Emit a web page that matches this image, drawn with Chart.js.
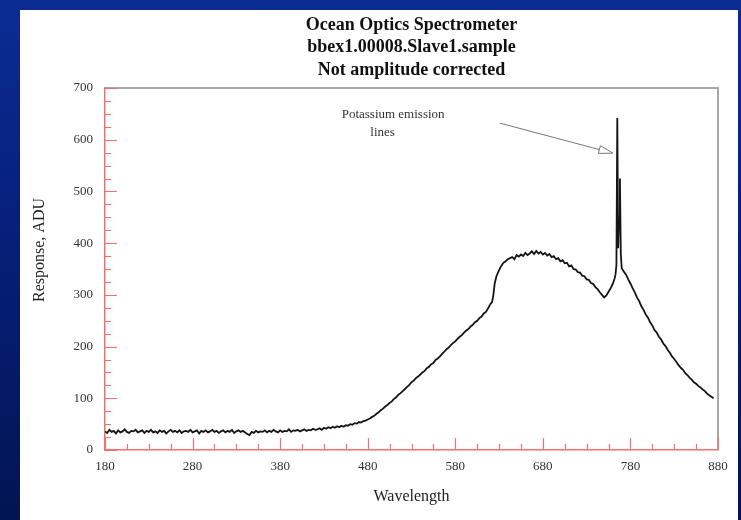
<!DOCTYPE html>
<html>
<head>
<meta charset="utf-8">
<script src="https://cdn.jsdelivr.net/npm/chart.js@4.4.1/dist/chart.umd.min.js"></script>
<style>
  html, body { margin: 0; padding: 0; }
  body {
    width: 741px; height: 520px; overflow: hidden; position: relative;
    background: linear-gradient(to bottom, #0b2c94 0%, #06207a 45%, #021452 100%);
  }
  #panel { position: absolute; left: 20px; top: 10px; width: 718px; height: 510px; background: #fff; }
  #wrap { position: absolute; left: 0; top: 0; width: 741px; height: 520px; }
</style>
</head>
<body>
<div id="panel"></div>
<div id="wrap"><canvas id="spectrum" width="741" height="520"></canvas></div>
<script>
const titleLines = ["Ocean Optics Spectrometer", "bbex1.00008.Slave1.sample", "Not amplitude corrected"];
const xTitle = "Wavelength";
const yTitle = "Response, ADU";

const xTicks = [180, 280, 380, 480, 580, 680, 780, 880];
const yTicks = [0, 100, 200, 300, 400, 500, 600, 700];
const minorStep = 25;

const wavelength = [
  180, 182.5, 185, 187.5, 190, 192.5, 195, 197.5, 200, 202.5, 205, 207.5, 210, 212.5, 215, 217.5, 220, 222.5, 225, 227.5, 230, 232.5, 235, 237.5, 240,
  242.5, 245, 247.5, 250, 252.5, 255, 257.5, 260, 262.5, 265, 267.5, 270, 272.5, 275, 277.5, 280, 282.5, 285, 287.5, 290, 292.5, 295, 297.5, 300,
  302.5, 305, 307.5, 310, 312.5, 315, 317.5, 320, 322.5, 325, 327.5, 330, 332.5, 335, 337.5, 340, 342.5, 345, 347.5, 350, 352.5, 355, 357.5, 360,
  362.5, 365, 367.5, 370, 372.5, 375, 377.5, 380, 382.5, 385, 387.5, 390, 392.5, 395, 397.5, 400, 402.5, 405, 407.5, 410, 412.5, 415, 417.5, 420,
  422.5, 425, 427.5, 430, 432.5, 435, 437.5, 440, 442.5, 445, 447.5, 450, 452.5, 455, 457.5, 460, 462.5, 465, 467.5, 470, 472.5, 475, 477.5, 480,
  482.5, 485, 487.5, 490, 492.5, 495, 497.5, 500, 502.5, 505, 507.5, 510, 512.5, 515, 517.5, 520, 522.5, 525, 527.5, 530, 532.5, 535, 537.5, 540,
  542.5, 545, 547.5, 550, 552.5, 555, 557.5, 560, 562.5, 565, 567.5, 570, 572.5, 575, 577.5, 580, 582.5, 585, 587.5, 590, 592.5, 595, 597.5, 600,
  602.5, 605, 607.5, 610, 612.5, 615, 617.5, 620,
  622, 623.5, 625, 627, 630, 632.5, 635, 637.5, 640, 642.5,
  645, 647.5, 650, 652.5, 655, 657.5, 660, 662.5, 665, 667.5,
  670, 672.5, 675, 677.5, 680, 682.5, 685, 687.5, 690, 692.5,
  695, 697.5, 700, 702.5, 705, 707.5, 710, 712.5, 715, 717.5,
  720, 722.5, 725, 727.5, 730, 732.5, 735, 737.5, 740, 742.5,
  745, 747.5, 750, 752.5, 755, 757.5, 760, 762, 763, 764,
  765, 766, 767, 768, 769, 770, 772, 775, 777.5, 780,
  782.5, 785, 787.5, 790, 792.5, 795, 797.5, 800, 802.5, 805,
  807.5, 810, 812.5, 815, 817.5, 820, 822.5, 825, 827.5, 830,
  832.5, 835, 837.5, 840, 842.5, 845, 847.5, 850, 852.5, 855,
  857.5, 860, 862.5, 865, 867.5, 870, 872.5, 875
];
const response = [
  36, 33, 39, 35, 37, 32, 38, 34, 36, 40, 35, 33, 37, 36, 39, 34, 36, 38, 33, 37, 35, 39, 34, 36, 33,
  38, 35, 37, 32, 36, 39, 35, 37, 34, 38, 33, 36, 37, 35, 39, 34, 36, 38, 32, 37, 35, 38, 34, 36,
  39, 35, 37, 33, 36, 38, 34, 37, 35, 39, 33, 36, 38, 35, 37, 34, 31, 29, 35, 33, 37, 34, 36, 35,
  38, 34, 37, 35, 39, 36, 34, 38, 35, 37, 36, 40, 35, 38, 37, 39, 36, 38, 40, 37, 39, 38, 41, 39,
  40, 42, 39, 43, 41, 44, 42, 45, 43, 46, 44, 47, 45, 48, 47, 50, 49, 52, 51, 54, 53, 56, 57, 59,
  61, 64, 66, 70, 73, 77, 80, 84, 87, 91, 94, 99, 102, 107, 110, 114, 118, 122, 126, 131, 134, 139, 142, 146,
  150, 153, 158, 161, 166, 168, 174, 177, 181, 186, 190, 195, 198, 203, 207, 210, 215, 219, 222, 227, 231, 234, 239, 242,
  247, 250, 255, 258, 264, 267, 274, 282,
  286, 300, 322, 336, 348, 356, 362, 365, 369, 371,
  373, 369, 377, 374, 378, 375, 381, 377, 380, 384,
  379, 385, 380, 383, 378, 381, 376, 379, 373, 375,
  369, 371, 365, 367, 361, 362, 355, 357, 350, 349,
  344, 343, 337, 336, 330, 329, 323, 321, 315, 311,
  305, 300, 295, 299, 306, 313, 322, 332, 340, 358,
  642, 390, 450, 525, 380, 352, 346, 339, 330, 322,
  313, 305, 295, 288, 278, 271, 262, 256, 247, 241,
  232, 227, 219, 214, 206, 201, 194, 188, 181, 176,
  170, 164, 159, 155, 149, 145, 140, 136, 131, 128,
  124, 121, 117, 114, 109, 106, 103, 100
];

// annotation placed in data coordinates
const noteLines = ["Potassium emission", "lines"];
const notePos = [[509, 648], [497, 613]];
const arrowFrom = [631, 632];
const arrowTo = [760, 574];

const axisRed = "rgb(244, 112, 112)";
const serif = "'Liberation Serif', 'Times New Roman', serif";

if (wavelength.length !== response.length) {
  throw new Error("wavelength/response length mismatch: " + wavelength.length + " vs " + response.length);
}

const points = wavelength.map((w, i) => ({ x: w, y: response[i] }));

const framePlugin = {
  id: "framePlugin",
  afterDatasetsDraw(chart) {
    const { ctx, chartArea: a, scales: { x, y } } = chart;
    ctx.save();
    // grey top and right frame
    ctx.strokeStyle = "#a8a8a8";
    ctx.lineWidth = 2;
    ctx.beginPath();
    ctx.moveTo(a.left, a.top);
    ctx.lineTo(a.right, a.top);
    ctx.lineTo(a.right, a.bottom);
    ctx.stroke();

    // inward ticks
    ctx.strokeStyle = axisRed;
    ctx.lineWidth = 1.2;
    ctx.beginPath();
    for (let v = xTicks[0]; v <= xTicks[xTicks.length - 1]; v += minorStep) {
      const px = Math.round(x.getPixelForValue(v)) + 0.5;
      const len = xTicks.includes(v) ? 12 : 6;
      ctx.moveTo(px, a.bottom);
      ctx.lineTo(px, a.bottom - len);
    }
    for (let v = yTicks[0]; v <= yTicks[yTicks.length - 1]; v += minorStep) {
      const py = Math.round(y.getPixelForValue(v)) + 0.5;
      const len = yTicks.includes(v) ? 12 : 6;
      ctx.moveTo(a.left, py);
      ctx.lineTo(a.left + len, py);
    }
    ctx.stroke();

    // axis titles
    ctx.fillStyle = "#222";
    ctx.font = "16px " + serif;
    ctx.textAlign = "center";
    ctx.textBaseline = "middle";
    ctx.fillText(xTitle, (a.left + a.right) / 2, 497);
    ctx.save();
    ctx.translate(40, 250);
    ctx.rotate(-Math.PI / 2);
    ctx.fillText(yTitle, 0, 0);
    ctx.restore();

    // annotation
    ctx.font = "13px " + serif;
    ctx.fillStyle = "#333";
    noteLines.forEach((t, i) => {
      ctx.fillText(t, x.getPixelForValue(notePos[i][0]), y.getPixelForValue(notePos[i][1]));
    });
    const x0 = x.getPixelForValue(arrowFrom[0]);
    const y0 = y.getPixelForValue(arrowFrom[1]);
    const x1 = x.getPixelForValue(arrowTo[0]);
    const y1 = y.getPixelForValue(arrowTo[1]);
    const ang = Math.atan2(y1 - y0, x1 - x0);
    const hl = 14, hw = 4;
    const bx = x1 - hl * Math.cos(ang), by = y1 - hl * Math.sin(ang);
    ctx.strokeStyle = "#777";
    ctx.lineWidth = 1;
    ctx.beginPath();
    ctx.moveTo(x0, y0);
    ctx.lineTo(bx, by);
    ctx.stroke();
    ctx.beginPath();
    ctx.moveTo(x1, y1);
    ctx.lineTo(bx + hw * Math.sin(ang), by - hw * Math.cos(ang));
    ctx.lineTo(bx - hw * Math.sin(ang), by + hw * Math.cos(ang));
    ctx.closePath();
    ctx.fillStyle = "#fff";
    ctx.fill();
    ctx.stroke();
    ctx.restore();
  },
};

new Chart(document.getElementById("spectrum"), {
  type: "line",
  data: {
    datasets: [
      {
        label: "Response",
        data: points,
        borderColor: "#151515",
        borderWidth: 1.8,
        pointRadius: 0,
        tension: 0,
      },
    ],
  },
  options: {
    responsive: false,
    animation: false,
    layout: { padding: { left: 0, right: 23, top: 0, bottom: 0 } },
    plugins: {
      legend: { display: false },
      tooltip: { enabled: false },
      title: {
        display: true,
        fullSize: false,
        text: titleLines,
        color: "#111",
        font: { family: serif, size: 18, weight: "bold", lineHeight: 1.25 },
        padding: { top: 14, bottom: 6.5 },
      },
    },
    scales: {
      x: {
        type: "linear",
        min: xTicks[0],
        max: xTicks[xTicks.length - 1],
        afterFit: (scale) => { scale.height = 70; },
        afterBuildTicks: (scale) => { scale.ticks = xTicks.map((v) => ({ value: v })); },
        ticks: { color: "#333", padding: 9, font: { family: serif, size: 13 } },
        grid: { display: false, drawTicks: false },
        border: { display: true, color: axisRed, width: 1.5 },
      },
      y: {
        min: yTicks[0],
        max: yTicks[yTicks.length - 1],
        afterFit: (scale) => { scale.width = 105; },
        afterBuildTicks: (scale) => { scale.ticks = yTicks.map((v) => ({ value: v })); },
        ticks: { color: "#333", padding: 12, font: { family: serif, size: 13 } },
        grid: { display: false, drawTicks: false },
        border: { display: true, color: axisRed, width: 1.5 },
      },
    },
  },
  plugins: [framePlugin],
});
</script>
</body>
</html>
